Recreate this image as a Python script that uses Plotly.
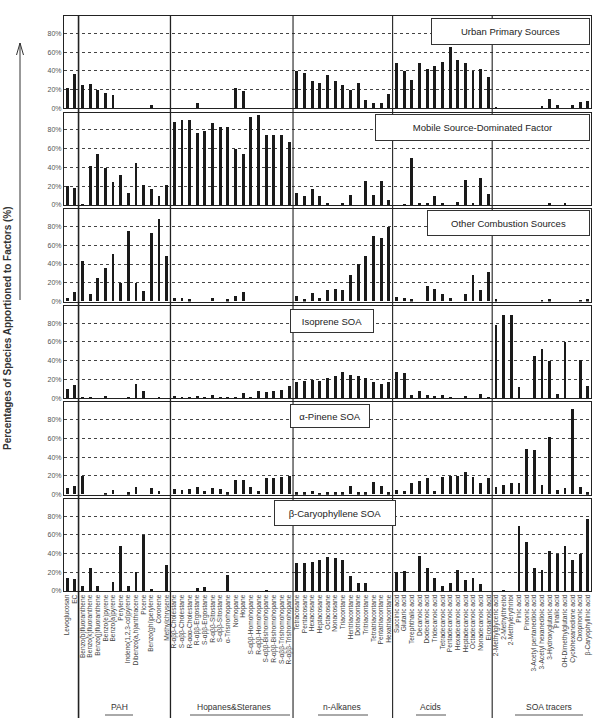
import plotly.graph_objects as go

# ---------------- data ----------------
base_cats = ["Levoglucosan", "EC"]
pah = ["Benzo(b)fluoranthene", "Benzo(k)fluoranthene", "Benzo(j)fluoranthene", "Benzo(e)pyrene",
       "Benzo(a)pyrene", "Perylene", "Indeno(1,2,3-cd)pyrene", "Dibenzo(a,h)anthracene",
       "Picene", "Benzo(ghi)perylene", "Coronene", "Methylchrysene"]
hopanes = ["R-αββ-Cholestane", "S-αββ-Cholestane", "R-ααα-Cholestane", "R-αββ-Ergostane",
           "S-αββ-Ergostane", "R-αββ-Sitostane", "S-αββ-Sitostane", "α-Trisnorhopane",
           "Norhopane", "Hopane", "S-αββ-Homohopane", "R-αββ-Homohopane",
           "S-αββ-Bishomohopane", "R-αββ-Bishomohopane", "S-αββ-Trishomohopane", "R-αββ-Trishomohopane"]
alkanes = ["Tetracosane", "Pentacosane", "Hexacosane", "Heptacosane", "Octacosane", "Nonacosane",
           "Triacontane", "Hentriacontane", "Dotriacontane", "Tritriacontane", "Tetratriacontane",
           "Pentatriacontane", "Hexatriacontane"]
acids = ["Succinic acid", "Glutaric acid", "Terephthalic acid", "Decanoic acid", "Dodecanoic acid",
         "Tridecanoic acid", "Tetradecanoic acid", "Pentadecanoic acid", "Hexadecanoic acid",
         "Heptadecanoic acid", "Octadecanoic acid", "Nonadecanoic acid", "Eicosanoic acid"]
soa = ["2-Methylglyceric acid", "2-Methylthreitol", "2-Methylerythritol", "Pinic acid",
       "Pinonic acid", "3-Acetyl pentanedioic acid", "3-Acetyl hexanedioic acid",
       "3-Hydroxyglutaric acid", "Pinalic acid", "OH-Dimethylglutaric acid",
       "Cyclohexanedione acid", "Oxopinonic acid", "β-Caryophyllinic acid"]
categories = base_cats + pah + hopanes + alkanes + acids + soa

group_names = ["PAH", "Hopanes&Steranes", "n-Alkanes", "Acids", "SOA tracers"]

factor_names = ["Urban Primary Sources", "Mobile Source-Dominated Factor", "Other Combustion Sources",
                "Isoprene SOA", "α-Pinene SOA", "β-Caryophyllene SOA"]

urban = ([22, 37] +
         [25, 26, 20, 16, 14, 0, 0, 0, 0, 3, 0, 0] +
         [0, 0, 0, 5.5, 0, 0, 0, 0, 22, 18, 0, 0, 0, 0, 0, 0] +
         [40, 38, 29.5, 27, 35.5, 29.5, 25, 19.5, 27.5, 9, 6, 5.5, 15] +
         [48.5, 40, 30, 48.5, 41.5, 45, 49.5, 65, 52, 48.5, 40, 41.5, 33.5] +
         [0.5, 0, 0, 0, 0, 0, 2.5, 10, 3.5, 0, 3.5, 6.5, 8])
mobile = ([21, 19] +
          [1, 41.5, 55, 40, 25, 32, 13, 45.5, 22, 17, 10, 22] +
          [89, 91.5, 91.5, 77, 79, 87.5, 84, 84, 60, 55, 94.5, 96, 74.5, 74.5, 74.5, 68] +
          [13, 10, 17.5, 10, 2, 0, 2, 11.5, 0, 26, 11.5, 26, 6] +
          [0, 1, 51, 2, 2, 10, 2, 0, 3, 27, 2, 29, 12] +
          [0, 0, 0, 0, 0, 0, 0, 2.5, 0, 2, 0, 0, 0])
combustion = ([3, 10] +
              [43, 8, 25, 36, 51, 20, 75, 20, 11, 73, 88, 48] +
              [3, 3, 2, 0, 0, 3, 0, 2, 6, 10, 0, 0, 0, 0, 0, 0] +
              [6, 2, 9, 4, 12, 13, 12, 28, 40, 48, 70, 68, 79] +
              [5, 3, 2, 0, 16, 13, 8, 3, 0, 8, 28, 12, 31] +
              [2, 0, 0, 0, 0, 0, 1, 2, 0, 0, 0, 1, 2])
isoprene = ([10, 14] +
            [1, 1, 0, 2, 0, 0, 1, 15, 8, 0, 1, 0] +
            [2, 1, 1, 2, 1, 4, 1, 1, 1, 6, 1, 8, 7, 8, 9, 13] +
            [17, 18, 20, 19, 22, 24, 28, 25, 24, 22, 17, 15, 17] +
            [28, 27, 3, 8, 4, 2, 3, 1, 0, 2, 0, 5, 1] +
            [78, 89, 89, 12, 0, 45, 53, 40, 5, 60, 0, 41, 13])
pinene = ([7, 9] +
          [20, 0, 0, 1, 5, 0, 2, 8, 0, 7, 3, 0] +
          [6, 5, 6, 8, 4, 7, 6, 2, 15, 15, 8, 4, 17, 17, 18, 20] +
          [2, 2, 3, 1, 2, 2, 2, 9, 2, 2, 13, 9, 2] +
          [5, 3, 12, 14, 17, 3, 19, 20, 20, 24, 18, 12, 17] +
          [8, 10, 12, 12, 48, 47, 10, 61, 5, 7, 91, 8, 2])
caryophyllene = ([14, 13] +
                 [5, 25, 5, 0, 10, 48, 5, 20, 60, 2, 0, 28] +
                 [0, 0, 0, 3, 4, 0, 0, 17, 0, 0, 0, 0, 1, 0, 0, 0] +
                 [30, 30, 31, 33, 36, 35, 33, 16, 9, 9, 0, 0, 0] +
                 [20, 21, 0, 38, 25, 14, 5, 9, 22, 12, 14, 8, 0] +
                 [0, 1, 0, 70, 53, 25, 23, 43, 40, 48, 33, 40, 77])
series = [urban, mobile, combustion, isoprene, pinene, caryophyllene]

y_ticks = [0, 20, 40, 60, 80]
y_tick_labels = ["0%", "20%", "40%", "60%", "80%"]

# ---------------- layout helpers ----------------
W, H = 600, 725
ML, MR, MT, MB = 64, 9, 16, 134
PW, PH = W - ML - MR, H - MT - MB


def px(xp):
    return (xp - ML) / PW


def py(yp):
    return (H - MB - yp) / PH


FONT = "Liberation Sans, Arial, sans-serif"

fig = go.Figure()
n = len(series)
panel_pitch = 96.6
for k in range(n):
    idx = "" if k == 0 else str(k + 1)
    fig.add_trace(go.Bar(x=categories, y=series[k], width=0.38,
                         marker=dict(color="#1a1a1a", line=dict(width=0)),
                         xaxis="x" + idx, yaxis="y" + idx, showlegend=False))
    top_px = 16 + panel_pitch * k
    bot_px = 108.3 + panel_pitch * k
    fig.layout["yaxis" + idx] = dict(
        domain=[max(0, py(bot_px)), min(1, py(top_px))], anchor="x" + idx,
        range=[0, 98.5], tickvals=y_ticks, ticktext=y_tick_labels,
        tickfont=dict(size=7, color="#555", family=FONT),
        showgrid=True, gridcolor="#444", griddash="dot", gridwidth=0.8,
        showline=True, mirror=True, linecolor="#222", linewidth=1,
        zeroline=False, ticks="", fixedrange=True)
    fig.layout["xaxis" + idx] = dict(
        domain=[0, 1], anchor="y" + idx, range=[-0.4, 68.4],
        type="category", categoryorder="array", categoryarray=categories,
        tickmode="linear", tick0=0, dtick=1,
        showline=True, mirror=True, linecolor="#222", linewidth=1,
        showgrid=False, zeroline=False, ticks="",
        showticklabels=(k == n - 1), tickangle=-90,
        tickfont=dict(size=6.6, color="#444", family=FONT),
        matches=None if k == 0 else "x", fixedrange=True)

# panel title boxes (pixel boxes: x0, x1, y0, y1)
boxes = [(431, 590, 18, 45), (375, 590, 114, 141), (427, 590, 210, 236),
         (290, 374, 309, 333), (290, 370, 404, 428), (274, 396, 500, 526)]
annotations = []
for name, (x0, x1, y0, y1) in zip(factor_names, boxes):
    annotations.append(dict(text=name, xref="paper", yref="paper",
                            x=px(x1), xanchor="right", y=py(y0), yanchor="top",
                            width=x1 - x0 - 2, height=y1 - y0 - 2, borderpad=0,
                            showarrow=False, bgcolor="white", bordercolor="#333",
                            borderwidth=1, align="center",
                            font=dict(size=9.5, color="#222", family=FONT)))

# group labels with underlines
group_centers = [6.8, 21.8, 35.9, 47.5, 62.9]
group_lines = [(105, 133), (190, 290), (318, 368), (416, 446), (515, 583)]
shapes = []
for name, c, (u0, u1) in zip(group_names, group_centers, group_lines):
    annotations.append(dict(text=name, xref="x6", yref="paper", x=c, y=py(707),
                            yanchor="middle", showarrow=False,
                            font=dict(size=8.5, color="#333", family=FONT)))
    shapes.append(dict(type="line", xref="paper", yref="paper", x0=px(u0), x1=px(u1),
                       y0=py(715), y1=py(715), line=dict(color="#555", width=1)))

# group dividers
for d, wdt in zip([1.5, 13.5, 29.5, 42.5, 55.5], [1.6, 1.3, 1.1, 1.1, 1.1]):
    shapes.append(dict(type="line", xref="x", yref="paper", x0=d, x1=d,
                       y0=py(718), y1=py(16), line=dict(color="#222", width=wdt)))

# y title with arrow
annotations.append(dict(text="<b>Percentages of Species Apportioned to Factors (%)</b>",
                        xref="paper", yref="paper", x=px(8), y=py(328), textangle=-90,
                        showarrow=False, xanchor="center", yanchor="middle",
                        font=dict(size=10, color="#333", family=FONT)))
shapes.append(dict(type="line", xref="paper", yref="paper", x0=px(20), x1=px(20),
                   y0=py(300), y1=py(43), line=dict(color="#333", width=1)))
shapes.append(dict(type="path", xref="paper", yref="paper",
                   path="M {} {} L {} {} L {} {}".format(px(16.5), py(55), px(20), py(43), px(23.5), py(55)),
                   line=dict(color="#333", width=1)))

fig.update_layout(width=W, height=H, margin=dict(l=ML, r=MR, t=MT, b=MB, autoexpand=False),
                  paper_bgcolor="white", plot_bgcolor="white", bargap=0,
                  annotations=annotations, shapes=shapes,
                  font=dict(family=FONT))

fig.write_html("out.html", config={"displayModeBar": False},
               post_script="document.body.style.margin='0px';document.body.style.overflow='hidden';")
